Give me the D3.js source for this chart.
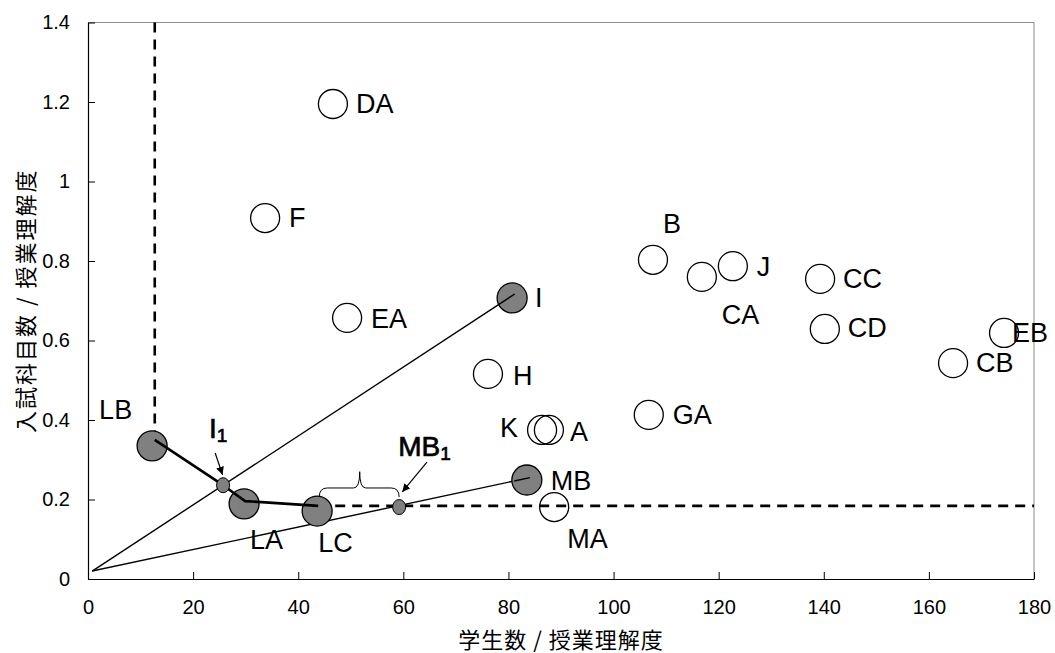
<!DOCTYPE html>
<html>
<head>
<meta charset="utf-8">
<script src="https://cdn.jsdelivr.net/npm/d3@7"></script>
<style>
  body { margin: 0; background: #fff; }
  svg { font-family: "Liberation Sans", Arial, sans-serif; }
</style>
</head>
<body>
<div id="chart"></div>
<script>
// open (white) circles
const openNames = ["DA", "F", "EA", "H", "K", "A", "GA", "MA", "B", "CA", "J", "CC", "CD", "EB", "CB"];
const openX = [46.6, 33.7, 49.3, 76.1, 86.4, 87.7, 106.7, 88.7, 107.5, 116.8, 122.7, 139.3, 140.2, 174.3, 164.6];
const openY = [1.195, 0.908, 0.657, 0.516, 0.375, 0.375, 0.413, 0.181, 0.803, 0.760, 0.787, 0.755, 0.629, 0.619, 0.543];

// grey filled circles
const filledNames = ["I", "MB", "LB", "LA", "LC"];
const filledX = [80.7, 83.5, 12.2, 29.7, 43.6];
const filledY = [0.707, 0.249, 0.335, 0.189, 0.171];

// small grey points (intersections)
const smallNames = ["I", "MB"];
const smallX = [25.7, 59.2];
const smallY = [0.236, 0.181];

// reference lines
const rayStart = [0.8, 0.02];
const rayI = [81.2, 0.717];
const rayMB = [84.1, 0.255];
const frontierX = [12.7, 25.7, 29.9, 43.8];
const frontierY = [0.35, 0.236, 0.196, 0.184];
const thresholdY = 0.184;
const thresholdX = 12.7;
const braceX = [44.0, 51.7, 59.2];
const braceY = [0.206, 0.229, 0.27];

const xTicks = [0, 20, 40, 60, 80, 100, 120, 140, 160, 180];
const yTicks = [0, 0.2, 0.4, 0.6, 0.8, 1, 1.2, 1.4];

// label offsets in pixels [dx, dy, anchor]
const labelPos = {
  DA: [23, 0], F: [24, 0], EA: [24, 1], H: [25, 2], K: [-24, -2, "end"], A: [21, 2],
  GA: [24, 0], MA: [13, 32], B: [10, -36], CA: [20, 38], J: [24, 1], CC: [23, 0],
  CD: [23, -1], EB: [8, 0], CB: [23, 0], I: [23, 0], MB: [24, 1], LB: [-53, -36],
  LA: [6, 36], LC: [1, 32]
};

const width = 1055, height = 653;
const margin = { left: 88, right: 21, top: 22.5, bottom: 74 };

const svg = d3.select('#chart').append('svg')
  .attr('width', width)
  .attr('height', height);

const x = d3.scaleLinear().domain([0, 180]).range([margin.left, width - margin.right]);
const y = d3.scaleLinear().domain([0, 1.4]).range([height - margin.bottom, margin.top]);

// frame: grey top/right
svg.append('path')
  .attr('d', `M${x(0)},${y(1.4)}H${x(180)}V${y(0)}`)
  .attr('fill', 'none').attr('stroke', '#8c8c8c').attr('stroke-width', 1);

// axes with inward ticks
const xAxis = svg.append('g')
  .attr('transform', `translate(0,${y(0)})`)
  .call(d3.axisBottom(x).tickValues(xTicks).tickSizeInner(-7).tickSizeOuter(0).tickPadding(21));
const yAxis = svg.append('g')
  .attr('transform', `translate(${x(0)},0)`)
  .call(d3.axisLeft(y).tickValues(yTicks).tickSizeInner(-7).tickSizeOuter(0).tickPadding(18)
    .tickFormat(d => d3.format('')(+d.toFixed(1))));
[xAxis, yAxis].forEach(a => {
  a.select('.domain').attr('stroke', '#000').attr('stroke-width', 1.2);
  a.selectAll('.tick line').attr('stroke', '#000').attr('stroke-width', 1);
  a.selectAll('.tick text').attr('font-size', 20).attr('fill', '#000')
    .attr('font-family', '"Liberation Sans", Arial, sans-serif');
});

// axis titles
svg.append('text')
  .attr('x', 561)
  .attr('y', 638)
  .attr('text-anchor', 'middle').attr('dominant-baseline', 'central')
  .attr('font-size', 22).attr('letter-spacing', 1)
  .attr('font-family', '"Noto Sans CJK JP", sans-serif')
  .text('学生数 / 授業理解度');
svg.append('text')
  .attr('transform', `translate(24,${(y(0) + y(1.4)) / 2}) rotate(-90)`)
  .attr('text-anchor', 'middle').attr('dominant-baseline', 'central')
  .attr('font-size', 22).attr('letter-spacing', 2)
  .attr('font-family', '"Noto Sans CJK JP", sans-serif')
  .text('入試科目数 / 授業理解度');

const line = d3.line().x(d => x(d[0])).y(d => y(d[1]));

// dashed thresholds
svg.append('path')
  .attr('d', line([[thresholdX, 1.4], [thresholdX, frontierY[0]]]))
  .attr('stroke', '#000').attr('stroke-width', 2.6).attr('stroke-dasharray', '10,7').attr('fill', 'none');
svg.append('path')
  .attr('d', line([[frontierX[frontierX.length - 1], thresholdY], [180, thresholdY]]))
  .attr('stroke', '#000').attr('stroke-width', 2.6).attr('stroke-dasharray', '10,7').attr('fill', 'none');

// rays from the origin
[rayI, rayMB].forEach(end => {
  svg.append('path')
    .attr('d', line([rayStart, end]))
    .attr('stroke', '#000').attr('stroke-width', 1.4).attr('fill', 'none');
});

// open circles
const openData = openNames.map((n, i) => ({ name: n, x: openX[i], y: openY[i] }));
svg.selectAll('circle.open')
  .data(openData)
  .enter()
  .append('circle')
  .attr('class', 'open')
  .attr('cx', d => x(d.x))
  .attr('cy', d => y(d.y))
  .attr('r', 14.5)
  .attr('fill', 'none')
  .attr('stroke', '#000')
  .attr('stroke-width', 1.3);

// filled circles
const filledData = filledNames.map((n, i) => ({ name: n, x: filledX[i], y: filledY[i] }));
svg.selectAll('circle.filled')
  .data(filledData)
  .enter()
  .append('circle')
  .attr('class', 'filled')
  .attr('cx', d => x(d.x))
  .attr('cy', d => y(d.y))
  .attr('r', 15)
  .attr('fill', '#808080')
  .attr('stroke', '#000')
  .attr('stroke-width', 1.3);

// rays again on top of the filled end points
[rayI, rayMB].forEach(end => {
  svg.append('path')
    .attr('d', line([[end[0] - 3, end[1] - (end[1] - rayStart[1]) * 3 / (end[0] - rayStart[0])], end]))
    .attr('stroke', '#000').attr('stroke-width', 1.4).attr('fill', 'none');
});

// frontier polyline
svg.append('path')
  .attr('d', line(frontierX.map((v, i) => [v, frontierY[i]])))
  .attr('stroke', '#000').attr('stroke-width', 2.6).attr('fill', 'none')
  .attr('stroke-linejoin', 'round');

// small intersection points
const smallData = smallNames.map((n, i) => ({ name: n, x: smallX[i], y: smallY[i] }));
svg.selectAll('ellipse.small')
  .data(smallData)
  .enter()
  .append('ellipse')
  .attr('class', 'small')
  .attr('cx', d => x(d.x))
  .attr('cy', d => y(d.y))
  .attr('rx', 6.5)
  .attr('ry', 7.5)
  .attr('fill', '#808080')
  .attr('stroke', '#000')
  .attr('stroke-width', 1);

// brace
const bx0 = x(braceX[0]), bxm = x(braceX[1]), bx1 = x(braceX[2]);
const byb = y(braceY[0]), byl = y(braceY[1]), byt = y(braceY[2]);
svg.append('path')
  .attr('d', `M${bx0},${byb} Q${bx0},${byl} ${bx0 + 8},${byl} L${bxm - 6},${byl} Q${bxm},${byl} ${bxm},${byt}`
    + ` Q${bxm},${byl} ${bxm + 6},${byl} L${bx1 - 8},${byl} Q${bx1},${byl} ${bx1},${byb}`)
  .attr('fill', 'none').attr('stroke', '#000').attr('stroke-width', 1);

// arrows
svg.append('defs').append('marker')
  .attr('id', 'arr')
  .attr('viewBox', '0 0 10 10')
  .attr('refX', 10).attr('refY', 5)
  .attr('markerWidth', 8).attr('markerHeight', 8)
  .attr('markerUnits', 'userSpaceOnUse')
  .attr('orient', 'auto')
  .append('path').attr('d', 'M0,0L10,5L0,10z').attr('fill', '#000');
const arrows = [[[24.2, 0.317], [25.6, 0.262]], [[64.5, 0.294], [59.8, 0.219]]];
arrows.forEach(a => {
  svg.append('path')
    .attr('d', line(a))
    .attr('stroke', '#000').attr('stroke-width', 1.2).attr('fill', 'none')
    .attr('marker-end', 'url(#arr)');
});

// point labels
const labelled = openData.concat(filledData);
svg.selectAll('text.lbl')
  .data(labelled)
  .enter()
  .append('text')
  .attr('class', 'lbl')
  .attr('x', d => x(d.x) + labelPos[d.name][0])
  .attr('y', d => y(d.y) + labelPos[d.name][1])
  .attr('text-anchor', d => labelPos[d.name][2] || 'start')
  .attr('dominant-baseline', 'central')
  .attr('font-size', 27)
  .text(d => d.name);

// subscripted labels of the intersection points
const subPos = [[-14, -57], [-1, -61]];
smallData.forEach((d, i) => {
  const t = svg.append('text')
    .attr('x', x(d.x) + subPos[i][0])
    .attr('y', y(d.y) + subPos[i][1])
    .attr('dominant-baseline', 'central')
    .attr('font-size', 28)
    .attr('stroke', '#000').attr('stroke-width', 0.7);
  t.append('tspan').text(d.name);
  t.append('tspan').attr('font-size', 19).attr('dy', 7).text('1');
});
</script>
</body>
</html>
